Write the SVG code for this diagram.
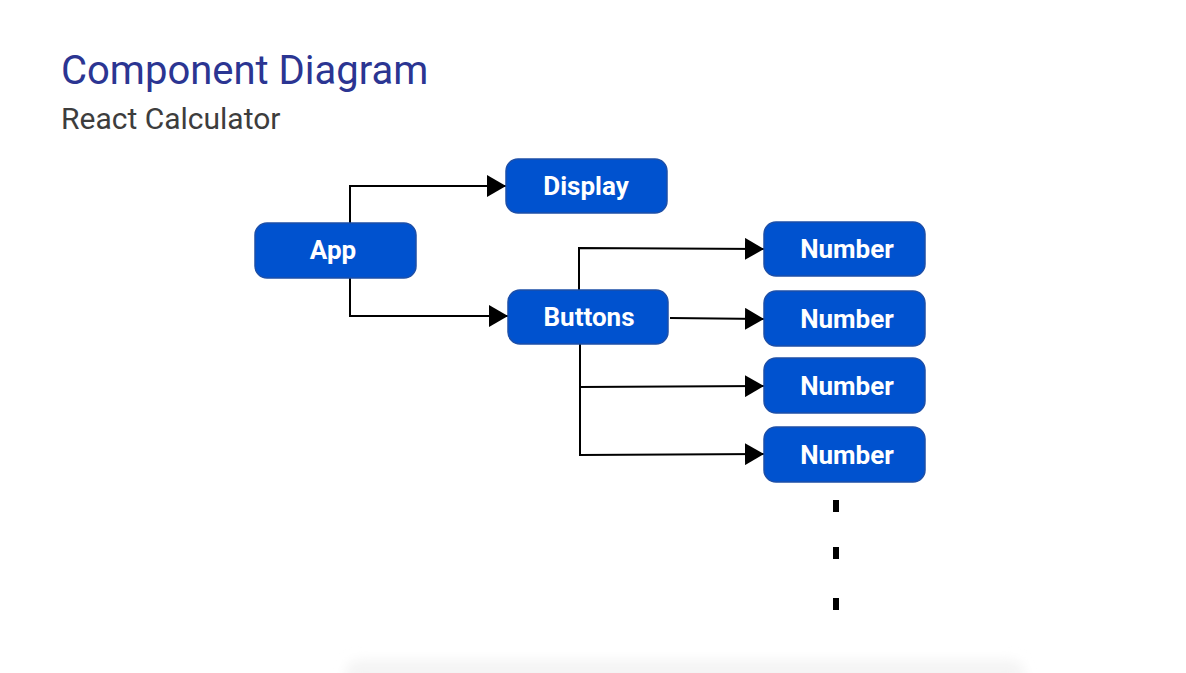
<svg xmlns="http://www.w3.org/2000/svg" width="1186" height="673" viewBox="0 0 1186 673">
<defs>
<marker id="arr" markerUnits="userSpaceOnUse" markerWidth="20" markerHeight="22" refX="19" refY="11" orient="auto">
<path d="M0,0 L19,11 L0,22 z" fill="#000"/>
</marker>
<linearGradient id="shade" x1="0" y1="0" x2="0" y2="1">
<stop offset="0" stop-color="#ffffff" stop-opacity="0"/>
<stop offset="1" stop-color="#f6f6f6"/>
</linearGradient>
<filter id="blur" x="-5%" y="-50%" width="110%" height="200%"><feGaussianBlur stdDeviation="6"/></filter>
</defs>
<style>
.title{font-family:Roboto,"Liberation Sans",sans-serif;font-size:40px;fill:#2b3592}
.sub{font-family:Roboto,"Liberation Sans",sans-serif;font-size:30px;fill:#3d3d3d}
.box{fill:#0052cf;stroke:#1d4fa8;stroke-width:1.5}
.lbl{font-family:Roboto,"Liberation Sans",sans-serif;font-weight:700;font-size:26px;fill:#ffffff;text-anchor:middle}
.conn{fill:none;stroke:#000;stroke-width:2;marker-end:url(#arr)}
</style>
<rect width="1186" height="673" fill="#ffffff"/>
<rect x="345" y="660" width="680" height="30" rx="15" fill="#f4f4f4" filter="url(#blur)"/>
<text class="title" x="61" y="84">Component Diagram</text>
<text class="sub" x="61" y="129">React Calculator</text>
<g id="connectors">
<path class="conn" d="M350,223 V186 H506"/>
<path class="conn" d="M350,278 V316 H508"/>
<path class="conn" d="M579,290 V248 L764,249"/>
<path class="conn" d="M670,318 L764,319"/>
<path class="conn" d="M580,344 V387 L764,386"/>
<path class="conn" d="M580,387 V455 L764,454"/>
</g>
<g id="app"><rect class="box" x="255" y="223" width="161" height="55" rx="12"/><text class="lbl" x="333" y="259">App</text></g>
<g id="display"><rect class="box" x="506" y="159" width="161" height="54" rx="12"/><text class="lbl" x="586" y="195">Display</text></g>
<g id="buttons"><rect class="box" x="508" y="290" width="160" height="54" rx="12"/><text class="lbl" x="589" y="326">Buttons</text></g>
<g id="number1"><rect class="box" x="764" y="222" width="161" height="54" rx="12"/><text class="lbl" x="847" y="258">Number</text></g>
<g id="number2"><rect class="box" x="764" y="291" width="161" height="55" rx="12"/><text class="lbl" x="847" y="328">Number</text></g>
<g id="number3"><rect class="box" x="764" y="358" width="161" height="55" rx="12"/><text class="lbl" x="847" y="395">Number</text></g>
<g id="number4"><rect class="box" x="764" y="427" width="161" height="55" rx="12"/><text class="lbl" x="847" y="464">Number</text></g>
<g id="ellipsis">
<rect x="833" y="500" width="6" height="12" fill="#000"/>
<rect x="833" y="547" width="6" height="12" fill="#000"/>
<rect x="833" y="598" width="6" height="12" fill="#000"/>
</g>
</svg>
